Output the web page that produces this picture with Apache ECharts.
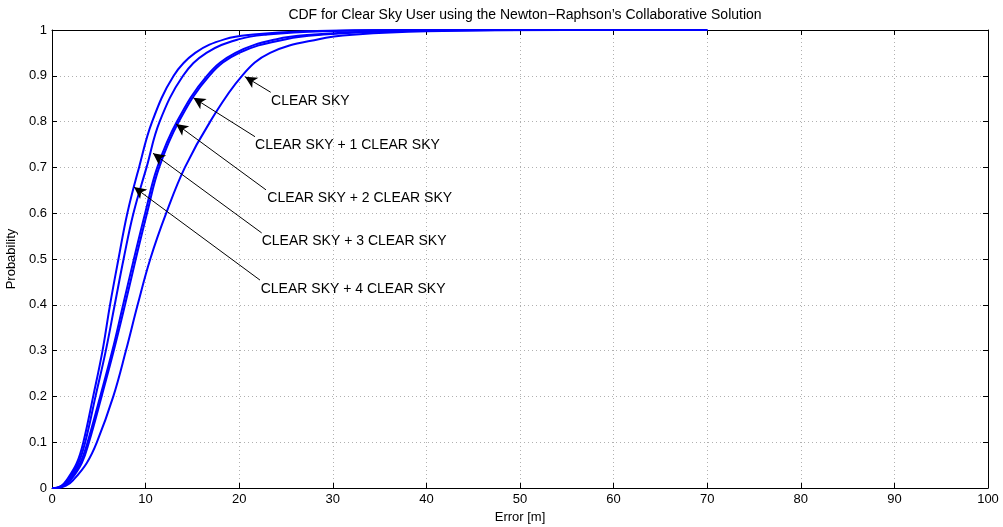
<!DOCTYPE html>
<html>
<head>
<meta charset="utf-8">
<script src="https://cdn.jsdelivr.net/npm/echarts@6/dist/echarts.min.js"></script>
<style>
  html, body { margin: 0; padding: 0; background: #fff; }
  #chart { width: 1003px; height: 527px; }
</style>
</head>
<body>
<div id="chart"></div>
<script>
// Probability levels at which each CDF curve was sampled
const probLevels = [0, 0.005, 0.0175, 0.054, 0.1, 0.2, 0.3, 0.4, 0.5, 0.6, 0.7, 0.8, 0.9, 0.95, 0.98, 0.99, 0.997, 1];

// Error [m] reached by each configuration at the probability levels above
const errPlus4 = [0.3, 1.0, 1.57, 2.64, 3.35, 4.4, 5.4, 6.2, 7.1, 8.05, 9.3, 10.7, 13.0, 15.3, 18.5, 21.5, 27, 38];
const errPlus3 = [0.4, 1.1, 1.74, 2.81, 3.55, 4.65, 5.75, 6.7, 7.65, 8.7, 10.1, 11.5, 14.0, 16.5, 20, 23, 29, 40];
const errPlus2 = [0.5, 1.2, 1.92, 3.0, 3.8, 5.15, 6.45, 7.6, 8.75, 9.95, 11.25, 13.35, 16.55, 19.6, 24, 28, 35, 48];
const errPlus1 = [0.5, 1.3, 2.0, 3.17, 3.95, 5.3, 6.6, 7.8, 8.95, 10.15, 11.45, 13.55, 16.8, 20.0, 25, 29, 36, 50];
const errClear = [0.6, 1.5, 2.28, 3.7, 4.8, 6.55, 7.9, 9.15, 10.5, 12.2, 14.2, 16.9, 20.3, 23.3, 28.5, 32.5, 40, 55];

// Every curve starts at the origin and is plotted out to 70 m
const curveStart = [0, 0];
const curveEnd = [70, 1];

// Annotation labels: text anchor and arrow (tail -> tip), in data units
const annoTexts = ['CLEAR SKY', 'CLEAR SKY + 1 CLEAR SKY', 'CLEAR SKY + 2 CLEAR SKY', 'CLEAR SKY + 3 CLEAR SKY', 'CLEAR SKY + 4 CLEAR SKY'];
const annoTextPos = [[23.4, 0.845], [21.69, 0.749], [23.0, 0.633], [22.4, 0.540], [22.3, 0.4345]];
const annoTail = [[23.37, 0.864], [21.69, 0.767], [22.86, 0.651], [22.4, 0.557], [22.22, 0.454]];
const annoTip = [[20.62, 0.898], [15.1, 0.852], [13.25, 0.795], [10.79, 0.731], [8.76, 0.657]];

const xTicks = { min: 0, max: 100, interval: 10 };
const yTicks = { min: 0, max: 1, interval: 0.1 };

function toPairs(errs) {
  const pts = [curveStart];
  errs.forEach((e, i) => pts.push([e, probLevels[i]]));
  pts.push(curveEnd);
  return pts;
}

const FONT = 'Liberation Sans, Arial, Helvetica, sans-serif';
const BLUE = '#0000ff';

const curves = [errClear, errPlus1, errPlus2, errPlus3, errPlus4].map(errs => ({
  type: 'line',
  data: toPairs(errs),
  showSymbol: false,
  smooth: 0.4,
  lineStyle: { color: BLUE, width: 2 },
  itemStyle: { color: BLUE },
  animation: false,
  z: 3
}));

const annotations = {
  type: 'line',
  data: [],
  animation: false,
  z: 5,
  markLine: {
    silent: true,
    animation: false,
    symbol: ['none', 'arrow'],
    symbolSize: [9, 12],
    lineStyle: { color: '#000', width: 1, type: 'solid' },
    label: { show: false },
    data: annoTail.map((t, i) => [{ coord: t }, { coord: annoTip[i] }])
  },
  markPoint: {
    silent: true,
    animation: false,
    symbol: 'circle',
    symbolSize: 0,
    label: {
      show: true,
      position: 'right',
      distance: 0,
      color: '#000',
      fontFamily: FONT,
      fontSize: 14,
      formatter: p => p.name
    },
    data: annoTextPos.map((c, i) => ({ name: annoTexts[i], coord: c }))
  }
};

function axisBase(extra) {
  return Object.assign({
    type: 'value',
    axisLine: { show: true, onZero: false, lineStyle: { color: '#000', width: 1 } },
    axisTick: { show: true, inside: true, length: 5, lineStyle: { color: '#000' } },
    axisLabel: { color: '#000', fontFamily: FONT, fontSize: 13 },
    splitLine: { show: false }
  }, extra);
}

const option = {
  animation: false,
  backgroundColor: '#fff',
  title: {
    text: 'CDF for Clear Sky User using the Newton\u2212Raphson\u2019s Collaborative Solution',
    left: 520,
    textAlign: 'center',
    top: 3,
    textStyle: { fontFamily: FONT, fontSize: 14, fontWeight: 'normal', color: '#000' }
  },
  grid: { left: 52, right: 15, top: 30, bottom: 39, containLabel: false, outerBoundsMode: 'none' },
  xAxis: [
    axisBase(Object.assign({}, xTicks, {
      position: 'bottom',
      name: 'Error [m]',
      nameLocation: 'middle',
      nameGap: 22,
      nameTextStyle: { color: '#000', fontFamily: FONT, fontSize: 13 },
      axisLabel: { color: '#000', fontFamily: FONT, fontSize: 13, margin: 5 },
      splitLine: { show: true, lineStyle: { color: '#b0b0b0', width: 1, type: [1, 3] } }
    })),
    axisBase(Object.assign({}, xTicks, { position: 'top', axisLabel: { show: false } }))
  ],
  yAxis: [
    axisBase(Object.assign({}, yTicks, {
      position: 'left',
      name: 'Probability',
      nameLocation: 'middle',
      nameGap: 34,
      nameTextStyle: { color: '#000', fontFamily: FONT, fontSize: 13 },
      axisLabel: { color: '#000', fontFamily: FONT, fontSize: 13, margin: 5,
        formatter: v => String(Math.round(v * 10) / 10) },
      splitLine: { show: true, lineStyle: { color: '#b0b0b0', width: 1, type: [1, 3] } }
    })),
    axisBase(Object.assign({}, yTicks, { position: 'right', axisLabel: { show: false } }))
  ],
  series: curves.concat([annotations])
};

const chart = echarts.init(document.getElementById('chart'), null, { renderer: 'canvas' });
chart.setOption(option);
</script>
</body>
</html>
